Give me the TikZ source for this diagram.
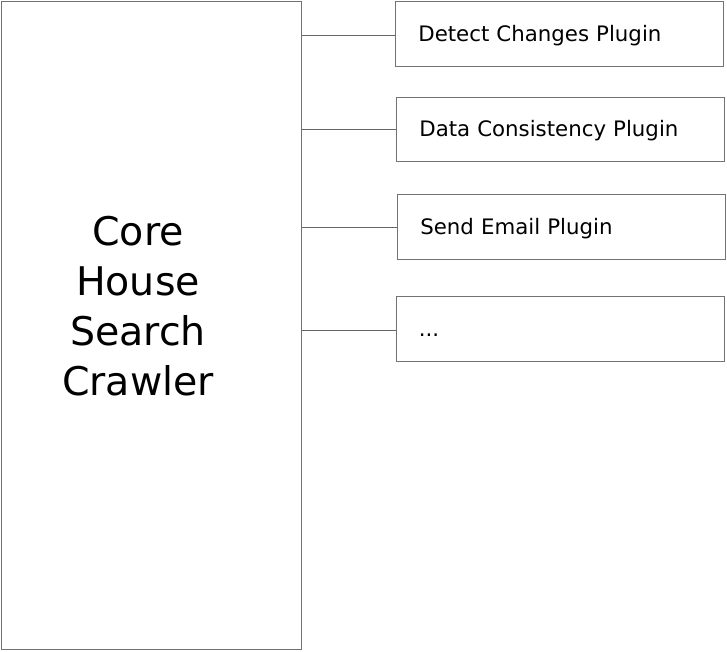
\documentclass[tikz,border=0pt]{standalone}
\usepackage{fontspec}
\setmainfont{DejaVu Sans}
\begin{document}
\begin{tikzpicture}[x=1pt,y=1pt,
  box/.style={draw=black!55, line width=0.7pt, anchor=north west},
  plugin/.style={box, inner xsep=23pt, inner ysep=0pt, text width=282pt, align=left,
    minimum height=65pt, text height=19pt, text depth=4pt, font=\fontsize{21.3}{25}\selectfont},
  link/.style={draw=black!60, line width=0.8pt}]
\useasboundingbox (0,0) rectangle (727,651);
\node[box, minimum width=300pt, minimum height=648pt, inner sep=0pt] (core) at (1,650) {};
\node[align=center, font=\fontsize{39.5}{50}\selectfont] (coretext) at (138,345) {Core\\House\\Search\\Crawler};
\node[plugin] (p1) at (395,650) {Detect Changes Plugin};
\node[plugin, minimum height=64pt] (p2) at (396,554) {Data Consistency Plugin};
\node[plugin] (p3) at (397,457) {Send Email Plugin};
\node[plugin] (p4) at (395.5,355) {...};
\foreach \p/\d in {p1/-1.5,p2/0,p3/-0.5,p4/-2}{
  \draw[link] ([yshift=\d pt]core.east |- \p.west) -- ([yshift=\d pt]\p.west);
}
\end{tikzpicture}
\end{document}
